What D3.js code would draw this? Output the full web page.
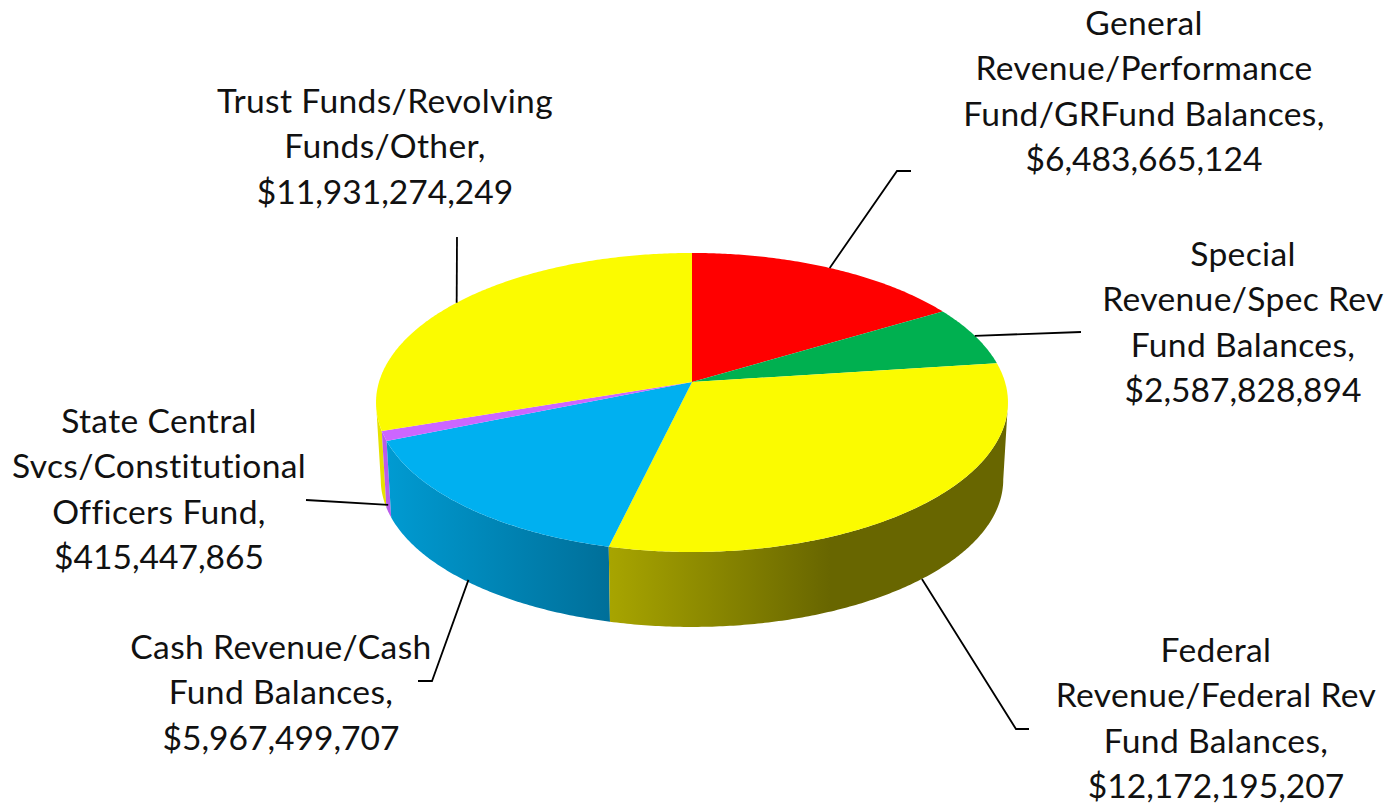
<!DOCTYPE html>
<html>
<head>
<meta charset="utf-8">
<script src="https://cdn.jsdelivr.net/npm/d3@7/dist/d3.min.js"></script>
<style>
html,body{margin:0;padding:0;background:#fff;overflow:hidden}
text{font-family:Lato,"Open Sans",sans-serif;fill:#111}
</style>
</head>
<body>
<svg id="chart" width="1400" height="804"></svg>
<script>
const categories = [
  ["General","Revenue/Performance","Fund/GRFund Balances,"],
  ["Special","Revenue/Spec Rev","Fund Balances,"],
  ["Federal","Revenue/Federal Rev","Fund Balances,"],
  ["Cash Revenue/Cash","Fund Balances,"],
  ["State Central","Svcs/Constitutional","Officers Fund,"],
  ["Trust Funds/Revolving","Funds/Other,"]
];
const values = [6483665124, 2587828894, 12172195207, 5967499707, 415447865, 11931274249];
const topColors = ["#ff0000","#00b050","#fbfb00","#00b0f0","#cc66ff","#fbfb00"];

// Layout of the labels and leader elbows (presentation only)
const labelCenters = [1144, 1243, 1216, 281, 159, 385];
const labelFirstBaselines = [35, 266, 662, 659, 433, 113];
const leaderDepth = [0, 0, 1, 0.97, 0.9, 0];
const elbows = [
  [[897,171],[911,171]],
  [[1081,332]],
  [[1016,729],[1029,729]],
  [[432,681],[418,681]],
  [[306,500]],
  [[457,237]]
];
const lineStep = 45.4, fontSize = 33.6;

// Projection of the pie's unit disc into the tilted, perspective view.
// depth: 0 = top rim, 1 = bottom rim of the wall.
const apexX = 692, apexTopY = 382, apexBottomY = 459.5;
const a = 313, b = 146.7, k = 0.137, bottomScale = 0.985;
const project = (angle, depth) => {
  const u = Math.sin(angle), v = Math.cos(angle), d = 1 + k * v;
  const s = 1 + (bottomScale - 1) * depth;
  const y0 = apexTopY + (apexBottomY - apexTopY) * depth;
  return [apexX + s * a * u / d, y0 - s * b * v / d];
};
// Silhouette angles: where the projected rim reaches its left and right extremes
const silhouetteRight = Math.acos(-k);
const silhouetteLeft = 2 * Math.PI - silhouetteRight;

const svg = d3.select("#chart");
const defs = svg.append("defs");
const grad = (id, x1, x2, stops) => {
  const g = defs.append("linearGradient").attr("id", id)
    .attr("gradientUnits","userSpaceOnUse")
    .attr("x1",x1).attr("x2",x2).attr("y1",0).attr("y2",0);
  stops.forEach(([o,c]) => g.append("stop").attr("offset",o).attr("stop-color",c));
};
grad("sideFederal", 608, 830, [[0,"#a8a500"],[1,"#686600"]]);
grad("sideCash", 385, 610, [[0,"#009bd2"],[1,"#006f99"]]);
const sideFills = ["#990000","#007a38","url(#sideFederal)","url(#sideCash)","#b95cea","#e6e200"];

const arcs = d3.pie().sort(null).startAngle(0).endAngle(2*Math.PI)(values);
const samples = (s, e) => {
  const n = Math.max(2, Math.ceil((e - s) / 0.01));
  return d3.range(n + 1).map(i => s + (e - s) * i / n);
};
const line = d3.line();

// Side walls: only the part between the silhouette angles faces the viewer
const sideOrder = [5,4,3,2];
svg.append("g").selectAll("path").data(sideOrder.map(i => arcs[i])).join("path")
  .attr("d", d => {
    const ang = samples(Math.max(d.startAngle, silhouetteRight), Math.min(d.endAngle, silhouetteLeft));
    return line([...ang.map(t => project(t,0)), ...ang.slice().reverse().map(t => project(t,1))]) + "Z";
  })
  .attr("fill", d => sideFills[d.index]);

// Top faces
svg.append("g").selectAll("path").data(arcs).join("path")
  .attr("d", d => line([[apexX, apexTopY], ...samples(d.startAngle, d.endAngle).map(t => project(t,0))]) + "Z")
  .attr("fill", d => topColors[d.index]);

// Leader lines start from each slice's middle angle
const midAngle = d => (d.startAngle + d.endAngle) / 2;
svg.append("g").selectAll("path").data(arcs).join("path")
  .attr("d", d => line([project(midAngle(d), leaderDepth[d.index]), ...elbows[d.index]]))
  .attr("fill","none").attr("stroke","#000").attr("stroke-width",1.8);

// Labels
const fmt = d3.format("$,");
const labels = svg.append("g").selectAll("text").data(arcs).join("text")
  .attr("text-anchor","middle").attr("font-size",fontSize);
labels.each(function(d){
  const cat = categories[d.index];
  const lines = [...cat, fmt(d.value)];
  d3.select(this).selectAll("tspan").data(lines).join("tspan")
    .attr("x", labelCenters[d.index])
    .attr("y", (_, i) => labelFirstBaselines[d.index] + i * lineStep)
    .attr("letter-spacing", (_, i) => i < cat.length ? 0.35 : 0)
    .text(t => t);
});
</script>
</body>
</html>
